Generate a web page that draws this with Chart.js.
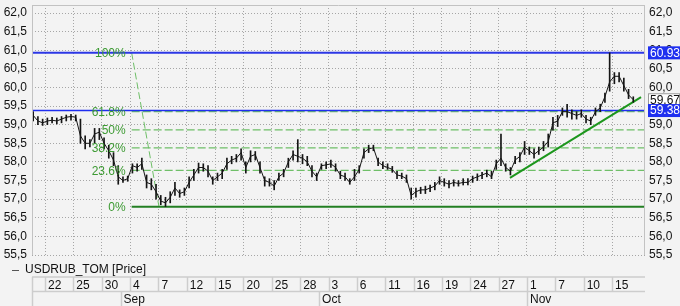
<!DOCTYPE html>
<html>
<head>
<meta charset="utf-8">
<script src="https://cdn.jsdelivr.net/npm/chart.js@4.4.1/dist/chart.umd.min.js"></script>
<style>
  html, body { margin: 0; padding: 0; background: #f3f3f3; }
  canvas { display: block; }
</style>
</head>
<body>
<canvas id="chart" width="680" height="306"></canvas>
<script>
// x axis = trading session index, 0 = Aug 22
const dayTicks = [0, 3, 6, 9, 12, 15, 18, 21, 24, 27, 30, 33, 36, 39, 42, 45, 48, 51, 54, 57, 60];
const dayLabels = ['22', '25', '30', '4', '7', '12', '15', '20', '25', '28', '3', '6', '11', '16', '19', '24', '27', '1', '7', '10', '15'];
const monthLabels = ['Sep', 'Oct', 'Nov'];
const monthStarts = [8, 29, 51];
const yTicks = [55.5, 56, 56.5, 57, 57.5, 58, 58.5, 59, 59.5, 60, 60.5, 61, 61.5, 62];

// price samples, one every half session from session -1.25
const sampleStart = -1.25;
const sampleStep = 0.5;
const closes = [
  59.25, 59.10, 59.05, 59.10, 59.12, 59.10, 59.15, 59.20, 59.22, 59.20,
  58.70, 58.50, 58.50, 58.75, 58.80, 58.50, 58.30, 58.05, 57.60, 57.50,
  57.55, 57.90, 57.85, 57.95, 57.45, 57.40, 57.20, 56.95, 56.90, 57.05,
  57.30, 57.15, 57.20, 57.45, 57.65, 57.85, 57.85, 57.75, 57.50, 57.60,
  57.70, 57.95, 58.05, 58.10, 58.25, 57.85, 58.15, 58.20, 57.85, 57.50,
  57.45, 57.35, 57.60, 57.70, 58.00, 58.20, 58.15, 58.10, 58.00, 57.75,
  57.60, 57.90, 57.92, 57.95, 57.85, 57.65, 57.60, 57.45, 57.60, 57.80,
  58.25, 58.35, 58.38, 58.00, 57.90, 57.85, 57.80, 57.65, 57.62, 57.55,
  57.10, 57.20, 57.25, 57.25, 57.30, 57.35, 57.50, 57.45, 57.40, 57.45,
  57.42, 57.45, 57.45, 57.55, 57.60, 57.65, 57.70, 57.60, 57.95, 58.10,
  57.85, 57.75, 58.05, 58.15, 58.40, 58.30, 58.20, 58.30, 58.40, 58.55,
  59.05, 59.10, 59.35, 59.35, 59.30, 59.25, 59.30, 59.15, 59.10, 59.35,
  59.45, 59.75, 60.15, 60.30, 60.30, 60.05, 59.80, 59.67
];
const lows = [
  59.10, 59.00, 58.98, 59.00, 59.05, 59.02, 59.05, 59.10, 59.12, 59.10,
  58.50, 58.35, 58.40, 58.50, 58.60, 58.35, 58.10, 57.90, 57.40, 57.45,
  57.48, 57.70, 57.75, 57.80, 57.30, 57.25, 57.00, 56.85, 56.80, 56.90,
  57.10, 57.05, 57.10, 57.30, 57.50, 57.70, 57.75, 57.60, 57.40, 57.50,
  57.55, 57.80, 57.95, 58.00, 58.05, 57.70, 58.00, 58.05, 57.70, 57.35,
  57.35, 57.25, 57.50, 57.60, 57.85, 58.05, 58.00, 57.95, 57.90, 57.60,
  57.50, 57.80, 57.82, 57.85, 57.75, 57.55, 57.50, 57.40, 57.50, 57.70,
  58.10, 58.25, 58.30, 57.90, 57.82, 57.80, 57.72, 57.55, 57.55, 57.45,
  57.00, 57.05, 57.15, 57.15, 57.20, 57.25, 57.40, 57.35, 57.30, 57.35,
  57.35, 57.38, 57.38, 57.45, 57.50, 57.55, 57.60, 57.55, 57.80, 57.90,
  57.75, 57.65, 57.95, 58.00, 58.20, 58.20, 58.10, 58.20, 58.30, 58.40,
  58.85, 58.95, 59.25, 59.20, 59.15, 59.15, 59.20, 59.05, 59.00, 59.25,
  59.35, 59.60, 59.90, 60.10, 60.15, 59.90, 59.70, 59.60
];
const highs = [
  59.35, 59.22, 59.15, 59.18, 59.20, 59.18, 59.22, 59.26, 59.28, 59.26,
  59.15, 58.70, 58.60, 58.90, 58.90, 58.65, 58.45, 58.25, 57.90, 57.60,
  57.62, 57.95, 57.95, 58.10, 57.65, 57.55, 57.40, 57.10, 57.05, 57.20,
  57.45, 57.25, 57.30, 57.60, 57.80, 57.97, 57.95, 57.90, 57.60, 57.70,
  57.80, 58.10, 58.15, 58.20, 58.35, 58.00, 58.30, 58.28, 58.00, 57.60,
  57.55, 57.50, 57.70, 57.80, 58.10, 58.30, 58.60, 58.20, 58.15, 57.90,
  57.70, 57.95, 58.00, 58.05, 57.95, 57.75, 57.70, 57.55, 57.80, 57.90,
  58.35, 58.45, 58.45, 58.10, 58.00, 57.95, 57.88, 57.75, 57.70, 57.65,
  57.30, 57.30, 57.32, 57.35, 57.38, 57.45, 57.60, 57.55, 57.50, 57.52,
  57.50, 57.55, 57.55, 57.62, 57.68, 57.72, 57.78, 57.75, 58.05, 58.75,
  57.95, 57.85, 58.15, 58.25, 58.55, 58.40, 58.35, 58.40, 58.55, 58.75,
  59.20, 59.25, 59.45, 59.55, 59.40, 59.35, 59.40, 59.25, 59.20, 59.45,
  59.55, 59.85, 60.93, 60.40, 60.40, 60.25, 59.95, 59.75
];

// drawn levels
const blueLevels = [60.93, 59.38];
const lastPrice = 59.67;
const fibLow = 56.797;
const fibHigh = 60.93;
const fibRatios = [0.618, 0.5, 0.382, 0.236];
const fibNames = ['100%', '61.8%', '50%', '38.2%', '23.6%', '0%'];
const fibStart = 9.17;      // session of the swing high
const fibEnd = 12.06;       // session of the swing low
const trendFrom = [49.2, 57.57];
const trendTo = [63.07, 59.74];

const xMin = -1.376;
const xMax = 63.49;
const yMin = 55.5;
const yMax = 62.215;

const FONT = "Arial, 'Liberation Sans', sans-serif";
const fibLevels = fibRatios.map(r => fibLow + (fibHigh - fibLow) * r);
const comma = v => v.toFixed(1).replace('.', ',');

function hline(y, from, to, color, width, dash) {
  return {
    type: 'line',
    data: [{ x: from, y: y }, { x: to, y: y }],
    borderColor: color, borderWidth: width, borderDash: dash || [],
    pointRadius: 0, order: 2
  };
}

const datasets = [];
datasets.push({
  type: 'line',
  data: closes.map((c, i) => ({ x: sampleStart + i * sampleStep, y: c })),
  borderColor: '#151515', borderWidth: 1, pointRadius: 0, tension: 0, order: 0
});
datasets.push({
  type: 'bar',
  data: closes.map((c, i) => ({ x: sampleStart + i * sampleStep, y: [lows[i], highs[i]] })),
  backgroundColor: '#151515', barThickness: 1, order: 0
});
datasets.push(hline(blueLevels[0], xMin, xMax, '#2c37e6', 2));
datasets.push(hline(blueLevels[1], xMin, xMax, '#1f2ef0', 1.5));
fibLevels.forEach(v => datasets.push(hline(v, fibStart, xMax, '#6fbf68', 1.3, [8, 3])));
datasets.push(hline(fibLow, fibStart, xMax, '#237f23', 2));
datasets.push({
  type: 'line',
  data: [{ x: fibStart, y: fibHigh }, { x: fibEnd, y: fibLow }],
  borderColor: '#6fbf68', borderWidth: 1, borderDash: [7, 3], pointRadius: 0, order: 2
});
datasets.push({
  type: 'line',
  data: [{ x: trendFrom[0], y: trendFrom[1] }, { x: trendTo[0], y: trendTo[1] }],
  borderColor: '#1c961c', borderWidth: 2, pointRadius: 0, order: 1
});

const decorations = {
  id: 'decorations',
  beforeDraw(chart) {
    const c = chart.ctx;
    c.save();
    c.fillStyle = '#f3f3f3';
    c.fillRect(0, 0, chart.width, chart.height);
    c.restore();
  },
  afterDraw(chart) {
    const c = chart.ctx;
    const a = chart.chartArea;
    const xs = chart.scales.x;
    const ys = chart.scales.y;
    c.save();

    // plot frame
    c.strokeStyle = '#c2c2c2';
    c.lineWidth = 1;
    c.beginPath();
    c.moveTo(a.left, a.top + 0.5); c.lineTo(a.right, a.top + 0.5);
    c.moveTo(a.left + 0.5, a.top); c.lineTo(a.left + 0.5, a.bottom);
    c.moveTo(a.right - 0.5, a.top); c.lineTo(a.right - 0.5, a.bottom);
    c.stroke();

    // fibonacci labels
    c.font = '12px ' + FONT;
    c.fillStyle = '#3c9a32';
    c.textAlign = 'right';
    c.textBaseline = 'middle';
    const fx = xs.getPixelForValue(fibStart) - 6;
    [fibHigh].concat(fibLevels, [fibLow]).forEach((v, i) => {
      c.fillText(fibNames[i], fx, ys.getPixelForValue(v) + 1);
    });

    // right axis price boxes
    c.textAlign = 'left';
    const box = (v, fill, stroke, text) => {
      const y = ys.getPixelForValue(v);
      c.fillStyle = fill;
      c.fillRect(a.right + 3, y - 6.5, chart.width - a.right - 3, 13);
      if (stroke) {
        c.strokeStyle = stroke;
        c.strokeRect(a.right + 3.5, y - 6, chart.width - a.right - 4, 12);
      }
      c.fillStyle = text;
      c.fillText(v.toFixed(2), a.right + 5, y + 0.5);
    };
    box(lastPrice, '#ffffff', '#9a9a9a', '#111111');
    box(blueLevels[0], '#1f30f0', null, '#ffffff');
    box(blueLevels[1], '#1f30f0', null, '#ffffff');

    // legend row
    const top = xs.top;
    c.strokeStyle = '#555555';
    c.lineWidth = 1;
    c.beginPath();
    c.moveTo(12, top + 15.5); c.lineTo(19, top + 15.5);
    c.stroke();
    c.fillStyle = '#111111';
    c.fillText('USDRUB_TOM [Price]', 25, top + 15);

    // date table
    const r1 = top + 22, r2 = top + 36.5, r3 = chart.height;
    c.strokeStyle = '#cdcdcd';
    c.lineWidth = 1.5;
    c.beginPath();
    c.moveTo(a.left, r1); c.lineTo(a.right, r1);
    c.moveTo(a.left, r2); c.lineTo(a.right, r2);
    c.moveTo(a.left + 0.5, r1); c.lineTo(a.left + 0.5, r3);
    dayTicks.forEach(t => {
      const x = Math.round(xs.getPixelForValue(t)) + 0.5;
      c.moveTo(x, r1); c.lineTo(x, r2);
    });
    monthStarts.forEach(t => {
      const x = Math.round(xs.getPixelForValue(t)) + 0.5;
      c.moveTo(x, r2); c.lineTo(x, r3);
    });
    c.stroke();

    c.fillStyle = '#111111';
    dayTicks.forEach((t, i) => {
      c.fillText(dayLabels[i], xs.getPixelForValue(t) + 3, (r1 + r2) / 2 + 1);
    });
    monthStarts.forEach((t, i) => {
      c.fillText(monthLabels[i], xs.getPixelForValue(t) + 3, (r2 + r3) / 2 + 1);
    });
    c.restore();
  }
};

const yAxis = (pos, width, pad) => ({
  type: 'linear',
  position: pos,
  min: yMin,
  max: yMax,
  afterBuildTicks: s => { s.ticks = yTicks.map(v => ({ value: v })); },
  afterFit: s => { s.width = width; s.paddingTop = 0; s.paddingBottom = 0; },
  grid: { display: pos === 'left', color: '#a6a6a6', drawTicks: false },
  border: { display: false, dash: [1, 2] },
  ticks: { padding: pad, color: '#111111', font: { family: FONT, size: 12 }, callback: v => comma(v) }
});

new Chart(document.getElementById('chart'), {
  type: 'bar',
  data: { datasets: datasets },
  options: {
    responsive: false,
    animation: false,
    devicePixelRatio: 1,
    layout: { padding: { top: 5, left: 0, right: 0, bottom: 0 } },
    plugins: { legend: { display: false }, tooltip: { enabled: false } },
    scales: {
      x: {
        type: 'linear',
        offset: false,
        min: xMin,
        max: xMax,
        afterBuildTicks: s => { s.ticks = dayTicks.map(v => ({ value: v })); },
        afterFit: s => { s.height = 51; s.paddingLeft = 0; s.paddingRight = 0; },
        grid: { color: '#a6a6a6', drawTicks: false, offset: false },
        border: { display: false, dash: [1, 2] },
        ticks: { display: false }
      },
      y: yAxis('left', 32, 5),
      yR: yAxis('right', 35, 4)
    }
  },
  plugins: [decorations]
});
</script>
</body>
</html>
